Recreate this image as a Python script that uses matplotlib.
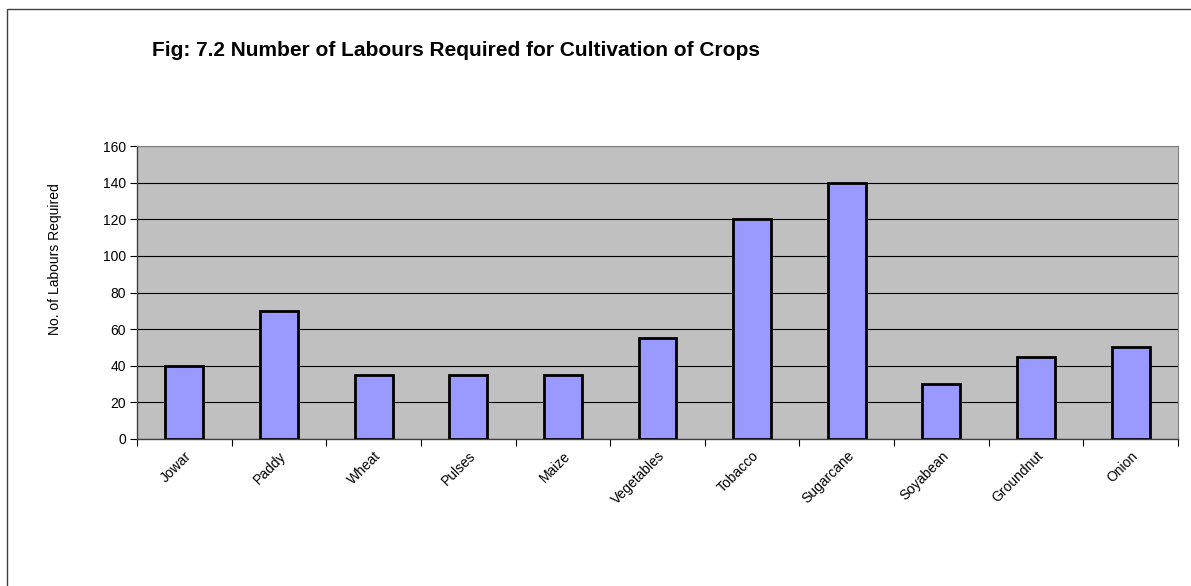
import matplotlib
matplotlib.use("Agg")
import matplotlib.pyplot as plt
import numpy as np

crops = ['Jowar', 'Paddy', 'Wheat', 'Pulses', 'Maize', 'Vegetables', 'Tobacco',
         'Sugarcane', 'Soyabean', 'Groundnut', 'Onion']
labours = [40, 70, 35, 35, 35, 55, 120, 140, 30, 45, 50]
yticks = [0, 20, 40, 60, 80, 100, 120, 140, 160]

plt.rcParams['font.family'] = ['Liberation Sans', 'DejaVu Sans']

fig = plt.figure(figsize=(11.91, 5.86), dpi=100)
# outer chart border (clipped on the right and bottom, as in the original)
fig.patches.append(plt.Rectangle((7 / 1191, -0.1), 1.2, 1 - 9 / 586 + 0.1,
                                 transform=fig.transFigure, fill=False,
                                 edgecolor='#404040', linewidth=1.0))

ax = fig.add_axes([137 / 1191, 1 - 439 / 586, (1178 - 137) / 1191, (439 - 146) / 586])
ax.set_facecolor('#C0C0C0')

x = np.arange(len(crops))
ax.set_axisbelow(True)
ax.yaxis.grid(True, color='black', linewidth=0.8)
ax.bar(x, labours, width=0.4, color='#9999FF', edgecolor='black', linewidth=2, zorder=3)

ax.set_xlim(-0.5, len(crops) - 0.5)
ax.set_ylim(0, 160)
ax.set_yticks(yticks)
ax.tick_params(axis='y', direction='out', length=5, width=0.8, labelsize=10, pad=3)

# category boundary ticks, labels centred under bars
ax.set_xticks(np.arange(len(crops) + 1) - 0.5)
ax.set_xticklabels([])
ax.tick_params(axis='x', direction='out', length=5, width=0.8)
ax.set_xticks(x, minor=True)
ax.set_xticklabels(crops, minor=True, rotation=45, ha='right', rotation_mode='anchor', fontsize=10)
ax.tick_params(axis='x', which='minor', length=0, pad=7)

for side in ['top', 'right']:
    ax.spines[side].set_color('#808080')
    ax.spines[side].set_linewidth(0.8)
for side in ['left', 'bottom']:
    ax.spines[side].set_color('#404040')
    ax.spines[side].set_linewidth(1.0)

ax.set_ylabel('No. of Labours Required', fontsize=10)
ax.yaxis.set_label_coords((62 - 137) / (1178 - 137), (439 - 259) / (439 - 146))

fig.text(152 / 1191, 1 - 50 / 586, 'Fig: 7.2 Number of Labours Required for Cultivation of Crops',
         fontsize=15, fontweight='bold', va='center', ha='left')

fig.savefig('out.png', dpi=100)
